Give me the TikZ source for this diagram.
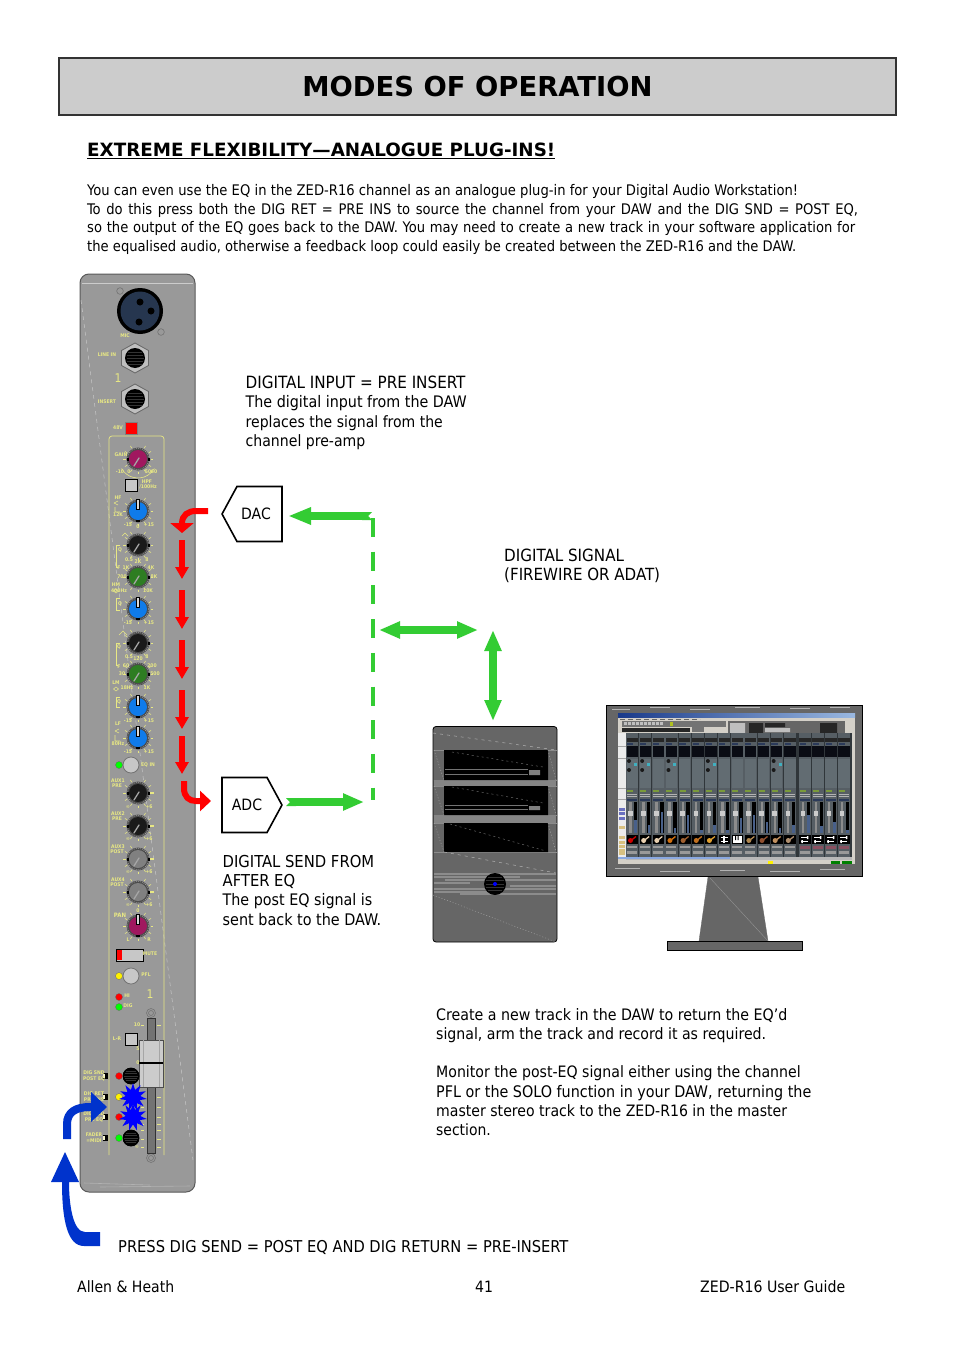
\documentclass[tikz,border=0pt]{standalone}
\usepackage{fontspec}
\setmainfont{DejaVu Sans}
\newfontfamily\bodyf{DejaVu Sans Condensed}
\usetikzlibrary{arrows.meta,shapes.geometric,shapes.symbols}
\definecolor{pan}{HTML}{999999}
\definecolor{yl}{HTML}{E8E884}
\definecolor{gr}{HTML}{33CC33}
\definecolor{rd}{HTML}{FF0000}
\definecolor{bl}{HTML}{0033CC}
\definecolor{kblue}{HTML}{0F7BEA}
\definecolor{kgreen}{HTML}{2E7D22}
\definecolor{kcrim}{HTML}{A0185F}
\definecolor{kblack}{HTML}{1A1A1A}
\definecolor{kgrey}{HTML}{808080}
\definecolor{dk}{HTML}{666666}
\definecolor{xlr}{HTML}{26364F}
\definecolor{wgrey}{HTML}{D4D0C8}
\definecolor{tbl}{HTML}{1A3A8A}
\definecolor{tbr}{HTML}{9AB8E0}
\definecolor{lime}{HTML}{B0C020}
\definecolor{lblu}{HTML}{6A70C0}
\definecolor{lbei}{HTML}{D8C080}
\definecolor{icA}{HTML}{E8D0B0}
\definecolor{icB}{HTML}{D07010}
\definecolor{icC}{HTML}{A06030}
\definecolor{icD}{HTML}{C07020}
\definecolor{icE}{HTML}{E0A030}
\definecolor{icG}{HTML}{B08850}
\definecolor{icH}{HTML}{905030}
\definecolor{icI}{HTML}{C09060}
\definecolor{icJ}{HTML}{B09070}
\definecolor{rose}{HTML}{8A5060}
\definecolor{teal2}{HTML}{40B0C0}
\definecolor{scrl}{HTML}{8AA8E0}
\definecolor{dA}{HTML}{565E64}
\definecolor{dB}{HTML}{2B3A5A}
\definecolor{dC}{HTML}{0A0C14}
\definecolor{dD}{HTML}{626C72}
\definecolor{dE}{HTML}{7A9A3A}
\definecolor{dF}{HTML}{48608A}
\definecolor{dG}{HTML}{30363A}
\tikzset{
  bodytext/.style={inner sep=0pt,anchor=north west,align=left,text=black,font=\bodyf\fontsize{15.8}{19.2}\selectfont},
  plab/.style={inner sep=0pt,text=yl,font=\bodyf\bfseries\fontsize{5}{5.5}\selectfont},
  pbig/.style={inner sep=0pt,text=yl,font=\bodyf\fontsize{12}{12}\selectfont},
  yline/.style={draw=yl,line width=0.7pt},
  sig/.style={draw=black,line width=1.6pt,fill=white,shape=signal,signal from=nowhere,inner sep=0pt,font=\bodyf\fontsize{15.6}{16}\selectfont},
  grdouble/.style={draw=gr,line width=8pt,{Triangle[length=21pt,width=16pt]}-{Triangle[length=21pt,width=16pt]}},
  rdarrow/.style={draw=rd,line width=6pt,-{Triangle[length=12pt,width=13pt]}},
  led/.style={circle,draw=black!60,line width=.3pt,minimum size=7pt,inner sep=0pt},
  sbtn/.style={rectangle,draw=black,line width=.8pt,fill=black!22,minimum size=12pt,inner sep=0pt},
  rbtn/.style={circle,draw=black!55,line width=.8pt,fill=black!22,minimum size=16pt,inner sep=0pt},
  starb/.style={star,star points=11,star point ratio=1.9,fill=blue,minimum size=28pt,inner sep=0pt},
  diagdash/.style={draw=black!22,line width=.5pt,dash pattern=on 4pt off 4pt},
}
\newcommand{\fs}[2]{{\fontsize{#1}{19.2}\selectfont #2}}
\newcount\plc
\newcommand{\pl}[3]{\global\advance\plc by 1 \node[plab,name=pl\the\plc] at (#1,#2) {#3};}
\newcommand{\plbig}[3]{\global\advance\plc by 1 \node[pbig,name=pl\the\plc] at (#1,#2) {#3};}
\newcommand{\rays}[2]{\foreach \a in {-60,-30,0,30,60,90,120,150,180,210,240}{\draw[yl,line width=.6pt] (#1,#2) ++(\a:12.5) -- ++(\a:2.6);}}
\newcommand{\kbase}[3]{\rays{#1}{#2}
  \fill[black!70] (#1,#2) circle[radius=11.5];
  \draw[black!35,line width=.5pt,dash pattern=on 1pt off 1pt] (#1,#2) circle[radius=10.7];
  \fill[#3] (#1,#2) circle[radius=9];}
\newcommand{\knobA}[3]{\kbase{#1}{#2}{#3}
  \draw[black!35,line width=1.3pt,line cap=round] (#1,#2) ++(1,-1) -- ++(-5,8);
  \fill[black] (#1,#2) ++(-11.5,-1.5) rectangle ++(2.2,3);
  \fill[black] (#1,#2) ++(9.5,-1.5) rectangle ++(2.2,3);}
\newcommand{\knobB}[3]{\kbase{#1}{#2}{#3}
  \draw[black,fill=white!85!black,line width=.5pt] (#1,#2) ++(-1.5,-12) rectangle ++(3,10.5);
  \fill[black] (#1,#2) ++(-2,9.3) rectangle ++(4,2);}
\newcommand{\grille}[3]{\fill[black] (#1,#2) circle[radius=#3];
  \foreach \d in {-.6,-.3,0,.3,.6}{\pgfmathsetmacro\hw{#3*sqrt(1-\d*\d)*.85}
    \draw[black!80,line width=.7pt] (#1,#2) ++(-\hw,\d*#3) -- ++(2*\hw,0);}}
\newcommand{\hexjack}[2]{\fill[black!25,draw=black!60,line width=.8pt] (#1,#2) ++(0,-15) -- ++(13.5,7.5) -- ++(0,15) -- ++(-13.5,7.5) -- ++(-13.5,-7.5) -- ++(0,-15) -- cycle;
  \grille{#1}{#2}{10}}
\newcommand{\digbar}[1]{\fill[black] (103,#1) ++(0,-3) rectangle ++(5,6);\fill[yl!40!white] (103.4,#1) ++(0,-2.3) rectangle ++(2,4.6);}
\newcommand{\dawstrip}[1]{\begin{scope}[shift={(#1,0)}]
  \fill[dA] (0,733) rectangle (12.3,857);
  \fill[black!85] (.5,738) rectangle (11.8,741.5);
  \fill[dB] (.8,742.5) rectangle (7,744.5);
  \fill[dC] (.5,746) rectangle (11.8,757);
  \fill[dD] (.5,758.5) rectangle (11.8,788);
  \fill[dE] (1,789.5) rectangle (7,791.5);
  \fill[black!30] (1,793.5) rectangle (11.3,794.3);
  \fill[black!30] (1,796) rectangle (11.3,796.8);
  \fill[dB] (1,799) rectangle (11,801);
  \fill[black!45] (3,802) rectangle (5.5,833);
  \fill[black!20] (1.8,811) rectangle (6.5,816);
  \fill[black] (7.8,802) rectangle (11.3,833);
  \fill[black] (.5,835) rectangle (12,844);
  \fill[black!40] (1,846) rectangle (11,848);
  \fill[black!40] (1,851) rectangle (11,854);
\end{scope}}
\begin{document}
\begin{tikzpicture}[x=1pt,y=-1pt]
\useasboundingbox[fill=white] (0,0) rectangle (954,1351);

% ---- header ----
\node[name=titlebox,draw=black!80,line width=1.5pt,fill=black!20,minimum width=837pt,minimum height=57pt,inner sep=0pt,font=\bfseries\fontsize{27.4}{30}\selectfont] at (477.5,86.5) {MODES OF OPERATION};
\node[name=subhead,inner sep=0pt,anchor=base west,font=\bfseries\fontsize{18.3}{20}\selectfont] at (87,157) {\underline{EXTREME FLEXIBILITY—ANALOGUE PLUG-INS!}};
\node[name=intro,bodytext,font=\bodyf\fontsize{14.6}{18.75}\selectfont] at (87,184) {\makebox[711pt][s]{You can even use the EQ in the ZED-R16 channel as an analogue plug-in for your Digital Audio Workstation!}\\
\makebox[771pt][s]{To do this press both the DIG RET = PRE INS to source the channel from your DAW and the DIG SND = POST EQ,}\\
\makebox[768pt][s]{so the output of the EQ goes back to the DAW. You may need to create a new track in your software application for}\\
\makebox[709pt][s]{the equalised audio, otherwise a feedback loop could easily be created between the ZED-R16 and the DAW.}};

% ---- channel strip ----
\draw[draw=black!65,line width=1pt,fill=pan,rounded corners=9pt] (80,274) rectangle (195,1192);
\draw[black!20,line width=1pt] (82,283) -- (193,283);
\draw[black!30,line width=.6pt] (84,1183) -- (150,1185) (100,1187) -- (190,1186);
\draw[diagdash] (81,300) -- (193,1160);
% XLR
\fill[black] (140,311) circle[radius=23];
\fill[xlr] (140,311) circle[radius=19.5];
\fill[black] (140,302) circle[radius=3.5] (151,311) circle[radius=3.5] (139,322) circle[radius=3.5];
\draw[black!55,line width=.6pt] (120,291) circle[radius=3.3] (161,332) circle[radius=3.3];
\pl{125}{336}{MIC}
\hexjack{135}{358} \pl{107}{355}{LINE IN}
\plbig{118}{378}{1}
\hexjack{135}{399} \pl{107}{402}{INSERT}
\pl{118}{428}{48V}
\node[name=btnphantom,rectangle,draw=black!50,fill=rd,minimum size=12.5pt,inner sep=0pt] at (131,428) {};
% yellow frame
\draw[yline,rounded corners=3pt] (109,1155) -- (109,436) -- (164,436) -- (164,1155);
% gain
\draw[yl,line width=.6pt] (138,459) ++(150:19) arc[start angle=150,end angle=30,radius=19];
\knobA{138}{459}{kcrim}
\pl{121}{455}{GAIN}\pl{120}{472}{-10}\pl{129}{472}{0}\pl{148}{472}{50}\pl{154}{472}{60}
\node[name=btnhpf,sbtn] at (131,485) {};
\pl{147}{482}{HPF}\pl{148}{487}{/100Hz}
% eq section
\pl{118}{498}{HF}
\draw[yl,line width=.6pt] (114,503) -- (118,501) (114,503) -- (118,505) (115,507) -- (115,512) -- (120,512);
\pl{118}{515}{12K}
\knobB{138}{511}{kblue}\pl{128}{525}{-15}\pl{149}{525}{+15}\pl{138}{527}{0}
\draw[yl,line width=.6pt] (122,536) -- (125,533) -- (128,536);
\knobA{138}{545}{kblack}\pl{129}{560}{0.5}\pl{147}{560}{8}
\draw[yl,line width=.6pt] (120,545) -- (116,545) -- (116,567) -- (118,567);
\pl{120}{550}{Q}\pl{119}{568}{F}
\knobA{138}{577}{kgreen}\pl{138}{562}{2K}\pl{126}{568}{1K}\pl{151}{568}{4K}\pl{122}{577}{700}\pl{154}{577}{8K}\pl{119}{591}{400Hz}\pl{148}{591}{10K}
\pl{116}{585}{HM}
\draw[yl,line width=.5pt] (116,591) ++(-2.5,0) -- ++(2.5,-2) -- ++(2.5,2) -- ++(-2.5,2) -- cycle;
\draw[yl,line width=.6pt] (120,598) -- (116,598) -- (116,610) -- (120,610);
\pl{120}{604}{Q}
\knobB{138}{609}{kblue}\pl{128}{623}{-15}\pl{149}{623}{+15}
\draw[yl,line width=.6pt] (119,635) -- (123,631) -- (127,635);
\knobA{138}{643}{kblack}\pl{129}{657}{0.5}\pl{147}{657}{8}
\draw[yl,line width=.6pt] (120,643) -- (116,643) -- (116,665) -- (118,665);
\pl{119}{647}{Q}\pl{119}{667}{F}
\knobA{138}{674}{kgreen}\pl{138}{659}{120}\pl{126}{666}{60}\pl{152}{666}{200}\pl{122}{674}{30}\pl{155}{674}{500}\pl{127}{688}{18Hz}\pl{147}{688}{1K}
\pl{116}{683}{LM}
\draw[yl,line width=.5pt] (116,689) ++(-2.5,0) -- ++(2.5,-2) -- ++(2.5,2) -- ++(-2.5,2) -- cycle;
\draw[yl,line width=.6pt] (120,697) -- (116,697) -- (116,707) -- (120,707);
\pl{119}{702}{Q}
\knobB{138}{707}{kblue}\pl{128}{721}{-15}\pl{149}{721}{+15}
\pl{118}{724}{LF}
\draw[yl,line width=.6pt] (115,731) -- (119,729) (115,731) -- (119,733) (115,735) -- (115,741) -- (120,741);
\pl{118}{744}{80Hz}
\knobB{138}{738}{kblue}\pl{128}{752}{-15}\pl{149}{752}{+15}
% eq in
\node[name=btneqin,rbtn] at (131,765) {};
\node[name=ledeqin,led,fill=green] at (119,765) {};
\pl{148}{765}{EQ IN}
% aux
\pl{118}{781}{AUX1}\pl{117}{786}{PRE}\knobA{138}{793}{kblack}\pl{128}{807}{∞}\pl{149}{807}{+6}
\fill[yl] (150,792) rectangle (154,794);
\pl{118}{814}{AUX2}\pl{117}{819}{PRE}\knobA{138}{826}{kblack}\pl{128}{839}{∞}\pl{149}{839}{+6}
\fill[yl] (150,825) rectangle (154,827);
\pl{118}{847}{AUX3}\pl{117}{852}{POST}\knobA{138}{859}{kgrey}\pl{128}{872}{∞}\pl{149}{872}{+6}
\fill[yl] (150,858) rectangle (154,860);
\pl{118}{880}{AUX4}\pl{117}{885}{POST}\knobA{138}{892}{kgrey}\pl{128}{905}{∞}\pl{149}{905}{+6}
\fill[yl] (150,891) rectangle (154,893);
\pl{120}{915}{\fontsize{6}{6}\selectfont PAN}
\knobB{138}{926}{kcrim}\pl{128}{940}{L}\pl{149}{940}{R}\pl{138}{911}{0}
% mute / pfl
\node[name=btnmute,rectangle,draw=black,line width=.8pt,fill=black!22,minimum width=27pt,minimum height=12pt,inner sep=0pt] at (129.5,955) {};
\fill[rd] (117,950) rectangle (121.5,960);
\pl{150}{954}{MUTE}
\node[name=btnpfl,rbtn] at (131,976) {};
\node[name=ledpfl,led,fill=yellow] at (119,976) {};
\pl{146}{975}{PFL}
\node[name=ledhi,led,fill=rd] at (119,997) {};\pl{127}{996}{HI}
\node[name=leddig,led,fill=green] at (119,1007) {};\pl{128}{1006}{DIG}
\plbig{150}{994}{1}
% fader
\foreach \cy in {1013,1158}{\draw[black!55,line width=.6pt] (151,\cy) circle[radius=4.5] (151,\cy) circle[radius=2.5];}
\draw[black!80,line width=.8pt,fill=black!55] (147,1018) rectangle (155,1153);
\foreach \ty in {1025,1049,1063,1087,1097,1107,1117,1124,1130,1139,1147}{\draw[yl,line width=.7pt] (157,\ty) -- (161,\ty) (141,\ty) -- (144,\ty);}
\pl{137}{1025}{10}\pl{138}{1049}{5}\pl{138}{1063}{0}\pl{137}{1147}{∞}
\node[name=btnlr,sbtn] at (131,1039) {};\pl{117}{1039}{L-R}
\node[name=fadercap,rectangle,draw=black!70,line width=.5pt,fill=black!20,minimum width=24pt,minimum height=47pt,inner sep=0pt] at (151,1063.5) {};
\draw[black!35,line width=.5pt] (143,1040) -- (143,1087) (159,1040) -- (159,1087);
\fill[black] (139,1062) rectangle (163,1064);
% dig buttons
\node[name=knobdigs,rbtn,fill=black,draw=black] at (131,1076) {};\grille{131}{1076}{8}
\node[name=knobmidi,rbtn,fill=black,draw=black] at (131,1138) {};\grille{131}{1138}{8}
\node[name=ledsnd,led,fill=rd] at (119,1076) {};
\node[name=ledret,led,fill=yellow] at (119,1097) {};
\node[name=ledpost,led,fill=rd] at (119,1117) {};
\node[name=ledmidi,led,fill=green] at (119,1138) {};
\foreach \by in {1076,1097,1117,1138}{\digbar{\by}}
\pl{94}{1073}{DIG SND}\pl{94}{1079}{POST EQ}
\pl{94}{1094}{DIG RET}\pl{94}{1100}{PRE INS}
\pl{94}{1114}{DIG SND}\pl{94}{1120}{PRE EQ}
\pl{94}{1135}{FADER}\pl{94}{1141}{=MIDI}
\node[name=star1,starb] at (133,1097) {};
\node[name=star2,starb] at (133,1117) {};

% ---- red signal path ----
\coordinate (rc1s) at (208,511);\coordinate (rc1e) at (182,533);
\draw[draw=rd,line width=6pt,-{Triangle[length=10pt,width=23pt]}] (rc1s) -- (196,511) .. controls (188,511) and (182,515) .. (rc1e);
\foreach \ya/\yb [count=\n] in {540/579,590/629,640/679,690/729,736/774}{
  \coordinate (rs\n) at (182,\ya);\coordinate (re\n) at (182,\yb);
  \draw[rdarrow] (rs\n) -- (re\n);}
\coordinate (rc2s) at (184,781);\coordinate (rc2e) at (211,801);
\draw[draw=rd,line width=6pt,-{Triangle[length=11pt,width=20pt]}] (rc2s) -- (184,788) .. controls (184,797) and (189,801) .. (196,801) -- (rc2e);

% ---- blue arrows ----
\coordinate (bu1) at (67,1139);\coordinate (bu2) at (107,1107);
\draw[draw=bl,line width=8pt,-{Triangle[length=16pt,width=29pt]}] (bu1) -- (67,1124) .. controls (67,1112) and (76,1107) .. (90,1107) -- (bu2);
\fill[bl] (100,1232) -- (85,1232) .. controls (73,1232) and (69,1205) .. (69,1182) -- (79,1182) -- (65,1152) -- (51,1182) -- (62,1182) .. controls (62,1222) and (68,1246) .. (84,1246) -- (100,1246) -- cycle;

% ---- DAC / ADC ----
\node[name=dac,sig,signal to=west,minimum width=60pt,minimum height=55pt,signal pointer angle=123] at (259.5,514) {DAC\hspace*{7pt}};
\node[name=adc,sig,signal to=east,minimum width=60pt,minimum height=55pt,signal pointer angle=123] at (244.5,805) {\hspace*{5pt}ADC};
\coordinate (dashtop) at (373,518);\coordinate (dashbot) at (373,800);
\draw[gr,line width=4pt,dash pattern=on 19pt off 14.7pt] (dashtop) -- (dashbot);
\coordinate (dacin) at (288,516);\coordinate (dactail) at (372,516);
\draw[draw=gr,line width=8pt,{Triangle Cap[reversed]}-{Triangle[length=23pt,width=16pt]}] (dactail) -- (dacin);
\coordinate (adcout) at (286,802);\coordinate (adctip) at (364,802);
\draw[draw=gr,line width=8pt,{Triangle Cap[reversed]}-{Triangle[length=21pt,width=16pt]}] (adcout) -- (adctip);
\coordinate (busl) at (379,630);\coordinate (busr) at (478,630);
\draw[grdouble] (busl) -- (busr);
\coordinate (pct) at (493,630);\coordinate (pcb) at (493,721);
\draw[grdouble] (pct) -- (pcb);

% ---- tower ----
\draw[draw=black,line width=.8pt,fill=dk,rounded corners=3pt] (433,726.5) rectangle (557,942);
\foreach \ty in {750,780,786,815,823,852}{\draw[black!45,line width=.5pt] (433.5,\ty) -- (556.5,\ty);}
\fill[black!48] (434,780) rectangle (556,786) (434,815) rectangle (556,823);
\fill[black] (444,750) rectangle (548,780) (444,786) rectangle (548,815) (444,823) rectangle (548,852);
\draw[black!30,line width=.5pt,dash pattern=on 3pt off 4pt] (433,733) -- (556,750);
\draw[black!30,line width=.5pt,dash pattern=on 3pt off 4pt] (444,852) -- (556,873);
\draw[black!35,line width=.4pt,dash pattern=on 1pt off 2pt] (433,895) -- (556,942);
\draw[black!30,line width=.4pt,dash pattern=on 1pt off 2pt] (434,750) -- (444,780) (548,750) -- (556,780) (434,786) -- (444,815) (548,786) -- (556,815) (434,823) -- (444,852) (548,823) -- (556,852);
\draw[black!60,line width=.5pt,dash pattern=on 2pt off 3pt] (452,752) -- (543,767) (452,787) -- (543,803) (450,824) -- (546,851);
\foreach \ty in {769.5,774,805,809.5}{\draw[black!55,line width=.5pt] (445,\ty) -- (528,\ty);}
\fill[black!50] (529,770) rectangle (540,775) (529,806) rectangle (540,810);
\foreach \ty/\xa/\xb in {874/434/556,877/434/520,880/445/556,883/434/470,886/510/556,889/434/556,892/434/500,894/460/556}{\draw[black!45,line width=1.5pt] (\xa,\ty) -- (\xb,\ty);}
\grille{495}{884}{11}
\fill[blue] (495,884) circle[radius=2];

% ---- monitor ----
\fill[dk,draw=black!60,line width=.3pt] (708,877) -- (758,877) -- (768,941) -- (699,941) -- cycle;
\draw[black!42,line width=.4pt] (710,878) -- (768,941);
\draw[draw=black,line width=.9pt,fill=dk] (606,705.5) rectangle (862.5,876.5);
\draw[black,line width=.9pt,fill=dk] (667.5,941.5) rectangle (802.5,950);
\foreach \xa/\ya/\xb in {612/709/630,650/707/670,690/709/710,735/707/760,790/708/810,830/707/850,615/868/640,660/871/690,720/870/745,770/871/800,820/869/845}{\draw[black!30,line width=.5pt] (\xa,\ya) -- (\xb,\ya);}
% screen
\fill[wgrey] (618,713) rectangle (855,864);
\shade[left color=tbl,right color=tbr] (618,713) rectangle (855,717);
\draw[black!60,line width=.8pt,dash pattern=on 5pt off 3pt] (620,719) -- (700,719);
\fill[black!55] (622,721) rectangle (726,726.5);
\foreach \bx in {624,628,632,636,640,644,648,652,656,660}{\fill[black!25] (\bx,722) rectangle ++(2.5,3);}
\fill[lime] (669.5,721.5) rectangle (672.5,726);
\fill[black!85] (622,727.5) rectangle (690,732);
\fill[black!55] (692,727) rectangle (704,732);
\fill[black!60] (728,721) rectangle (845,735);
\fill[black!85] (749,723) rectangle (763,733) (765,723) rectangle (785,727) (820,723) rectangle (837,733);
\fill[black!25] (730,723) rectangle (745,733) (765,728) rectangle (790,732);
\fill[dG] (618,733) rectangle (855,857);
\fill[white!92!black] (618,733) rectangle (626,857);
\foreach \ly in {746,758,788,799}{\draw[black!35,line width=.4pt] (618,\ly) -- (626,\ly);}
\foreach \ly in {808,812,817}{\fill[lblu] (618.5,\ly) rectangle (625,\ly+3);}
\foreach \ly in {826,836,841,845,849,852}{\fill[lbei] (619,\ly) rectangle (625,\ly+2.6);}
% channel strips: guitars etc.
\foreach \i/\ic/\mh in {0/red!80!black/820,1/icA/825,2/icA/812,3/icB/828,4/icC/815,5/icD/830,6/icE/825,7/white/830,8/white/818,9/icG/815,10/icH/822,11/icI/828,12/icJ/825}{
  \pgfmathsetmacro\sx{626+13.15*\i}
  \dawstrip{\sx}
  \fill[dF] (\sx+8.4,\mh) rectangle (\sx+10.8,833);
  \ifnum\i=7
    \draw[white,line width=.9pt] (\sx+2.5,837.5) -- (\sx+9.5,837.5) (\sx+2.5,841.5) -- (\sx+9.5,841.5);
    \fill[white] (\sx+5,836) rectangle (\sx+7,843);
  \else\ifnum\i=8
    \fill[white] (\sx+2,836) rectangle (\sx+10.5,843);
    \fill[black] (\sx+4,836) rectangle (\sx+5,840) (\sx+6.5,836) rectangle (\sx+7.5,840);
  \else
    \draw[\ic,line width=1.3pt] (\sx+5,840.5) -- (\sx+10,836.5);
    \fill[\ic] (\sx+4.5,840.5) circle[radius=2.5];
  \fi\fi}
\foreach \i/\mh in {0/815,1/826,2/822,3/830}{
  \pgfmathsetmacro\sx{798.8+13*\i}
  \dawstrip{\sx}
  \fill[dF] (\sx+8.4,\mh) rectangle (\sx+10.8,833);
  \draw[white,line width=.9pt] (\sx+2.5,837.5) -- (\sx+9.5,837.5) (\sx+2.5,841.5) -- (\sx+9.5,841.5);
  \fill[white] (\sx+8,836) rectangle (\sx+9.5,839) (\sx+2.5,840) rectangle (\sx+4,843);
  \fill[rose] (\sx+1,846) rectangle (\sx+11,849);}
\foreach \i in {0,1,3,6,11}{\pgfmathsetmacro\sx{626+13.15*\i}
  \fill[black!90] (\sx+3,761) circle[radius=2] (\sx+3,770) circle[radius=2];
  \fill[teal2] (\sx+8,763) rectangle (\sx+11,766);}
\fill[wgrey] (852,733) rectangle (855,857);
\fill[black!28] (626,857) rectangle (852,860);
\fill[scrl] (618,857) rectangle (730,859);
\fill[wgrey] (618,860.5) rectangle (855,864);
\fill[yellow] (768,861) rectangle (773,863.5);
\fill[green!50!black] (831,861) rectangle (840,863.5);
\fill[green!50!black] (842,861) rectangle (852,863.5);

% ---- texts ----
\node[name=t1,bodytext] at (245.5,376) {\fs{16.9}{DIGITAL INPUT = PRE INSERT}\\\fs{15.9}{The digital input from the DAW}\\\fs{15.6}{replaces the signal from the}\\\fs{15.65}{channel pre-amp}};
\node[name=t2,bodytext] at (504,549) {\fs{16.85}{DIGITAL SIGNAL}\\\fs{16.75}{(FIREWIRE OR ADAT)}};
\node[name=t3,bodytext] at (222.5,855) {\fs{16.45}{DIGITAL SEND FROM}\\\fs{16.4}{AFTER EQ}\\\fs{15.9}{The post EQ signal is}\\\fs{16}{sent back to the DAW.}};
\node[name=t4,bodytext] at (436,1008) {\fs{15.8}{Create a new track in the DAW to return the EQ’d}\\\fs{15.7}{signal, arm the track and record it as required.}\\[19.2pt]\fs{15.7}{Monitor the post-EQ signal either using the channel}\\\fs{15.95}{PFL or the SOLO function in your DAW, returning the}\\\fs{15.67}{master stereo track to the ZED-R16 in the master}\\\fs{15.5}{section.}};
\node[name=t5,bodytext,font=\bodyf\fontsize{16.3}{19.2}\selectfont] at (118,1240) {PRESS DIG SEND = POST EQ AND DIG RETURN = PRE-INSERT};
\node[name=f1,bodytext,font=\bodyf\fontsize{15.6}{19.2}\selectfont] at (77,1280) {Allen \& Heath};
\node[name=f2,bodytext,font=\bodyf\fontsize{15.6}{19.2}\selectfont] at (475,1281) {41};
\node[name=f3,bodytext,font=\bodyf\fontsize{15.7}{19.2}\selectfont] at (700,1280) {ZED-R16 User Guide};
\end{tikzpicture}
\end{document}
